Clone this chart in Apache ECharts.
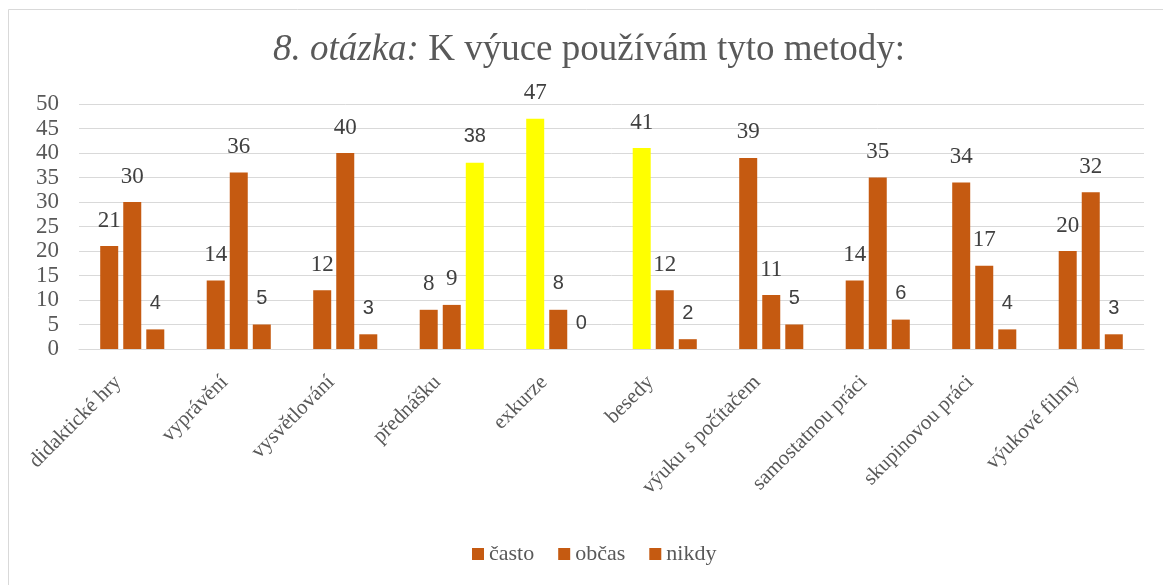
<!DOCTYPE html>
<html>
<head>
<meta charset="utf-8">
<script src="https://cdn.jsdelivr.net/npm/echarts@6/dist/echarts.min.js"></script>
<style>
  html, body { margin: 0; padding: 0; background: #fff; }
  #chart { width: 1163px; height: 585px; }
</style>
</head>
<body>
<div id="chart"></div>
<script>
var categories = ['didaktické hry', 'vyprávění', 'vysvětlování', 'přednášku', 'exkurze', 'besedy', 'výuku s počítačem', 'samostatnou práci', 'skupinovou práci', 'výukové filmy'];
var casto = [21, 14, 12, 8, 47, 41, 39, 14, 34, 20];
var obcas = [30, 36, 40, 9, 8, 12, 11, 35, 17, 32];
var nikdy = [4, 5, 3, 38, 0, 2, 5, 6, 4, 3];
// zvýrazněné sloupce (žlutě): [řada, kategorie]
var highlighted = [['nikdy', 3], ['často', 4], ['často', 5]];
// popisky psané bezpatkovým písmem
var sansLabels = [['občas', 4]];

var orange = '#C55A11';
var yellow = '#FFFF00';
var serif = 'Liberation Serif';
var sans = 'Liberation Sans';

function buildData(name, values, sansAll) {
    return values.map(function (v, i) {
        var hl = highlighted.some(function (h) { return h[0] === name && h[1] === i; });
        var sl = sansAll || sansLabels.some(function (h) { return h[0] === name && h[1] === i; });
        return {
            value: v,
            itemStyle: { color: hl ? yellow : orange },
            label: {
                fontFamily: sl ? sans : serif,
                fontSize: sl ? 20 : 23,
                distance: sl ? 16 : 14
            }
        };
    });
}

function makeSeries(name, values, sansAll) {
    return {
        name: name,
        type: 'bar',
        data: buildData(name, values, sansAll),
        barWidth: 18,
        barGap: '28%',
        itemStyle: { color: orange },
        label: {
            show: true,
            position: 'top',
            color: '#404040'
        }
    };
}

var myChart = echarts.init(document.getElementById('chart'));

var option = {
    animation: false,
    backgroundColor: '#fff',
    textStyle: { fontFamily: serif },
    graphic: [{
        type: 'rect',
        shape: { x: 8.5, y: 9.5, width: 1200, height: 600 },
        style: { fill: 'none', stroke: '#d9d9d9', lineWidth: 1 },
        silent: true
    }],
    title: {
        text: '{i|8. otázka:} K výuce používám tyto metody:',
        left: 268,
        top: 27,
        textStyle: {
            fontFamily: serif,
            fontSize: 37,
            fontWeight: 'normal',
            color: '#595959',
            rich: {
                i: { fontFamily: serif, fontSize: 37, fontStyle: 'italic', color: '#595959' }
            }
        }
    },
    legend: {
        bottom: 15,
        left: 467,
        itemWidth: 12,
        itemHeight: 12,
        itemGap: 24,
        icon: 'rect',
        textStyle: { fontFamily: serif, fontSize: 22, color: '#595959' },
        data: ['často', 'občas', 'nikdy']
    },
    grid: {
        left: 79,
        right: 19,
        top: 104,
        bottom: 236
    },
    xAxis: {
        type: 'category',
        data: categories,
        axisLine: { lineStyle: { color: '#d9d9d9', width: 1 } },
        axisTick: { show: false },
        axisLabel: {
            rotate: 45,
            interval: 0,
            margin: 16,
            padding: [0, 20, 0, 0],
            fontFamily: serif,
            fontSize: 21,
            color: '#595959'
        }
    },
    yAxis: {
        type: 'value',
        min: 0,
        max: 50,
        interval: 5,
        axisLine: { show: false },
        axisTick: { show: false },
        splitLine: { lineStyle: { color: '#d9d9d9', width: 1 } },
        axisLabel: {
            fontFamily: serif,
            fontSize: 23,
            color: '#595959',
            margin: 20
        }
    },
    series: [
        makeSeries('často', casto, false),
        makeSeries('občas', obcas, false),
        makeSeries('nikdy', nikdy, true)
    ]
};
myChart.setOption(option);
</script>
</body>
</html>
